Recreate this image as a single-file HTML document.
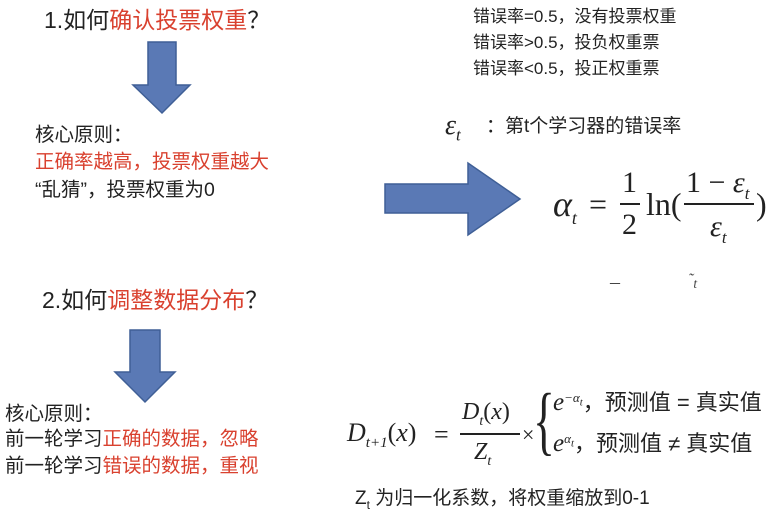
<!DOCTYPE html>
<html><head><meta charset="utf-8"><style>
body{margin:0;width:778px;height:518px;background:#fff;position:relative;overflow:hidden;font-family:"Liberation Sans","Noto Sans CJK SC",sans-serif;color:#222}
.t{position:absolute;white-space:nowrap;line-height:1}
.r{color:#d9412f}
.m{font-family:"Liberation Serif","Noto Serif CJK SC",serif;font-style:italic}
.n{font-family:"Liberation Serif","Noto Serif CJK SC",serif}
sub,sup{line-height:0}
</style></head><body>
<svg width="778" height="518" style="position:absolute;left:0;top:0">
<polygon points="148,42 176,42 176,85 190,85 162,113 133,85 148,85" fill="#5a79b5" stroke="#3f5f96" stroke-width="1.5"/>
<polygon points="130,330 160,330 160,372 175,372 145,402 115,372 130,372" fill="#5a79b5" stroke="#3f5f96" stroke-width="1.5"/>
<polygon points="385,184 468,184 468,163 520,199 468,235 468,213 385,213" fill="#5a79b5" stroke="#3f5f96" stroke-width="1.5"/>
</svg>
<div class="t" style="left:44px;top:9px;font-size:23px">1.如何<span class="r">确认投票权重</span>？</div>
<div class="t" style="left:35px;top:126px;font-size:19.5px">核心原则：</div>
<div class="t r" style="left:35px;top:153px;font-size:19.5px">正确率越高，投票权重越大</div>
<div class="t" style="left:35px;top:181px;font-size:19.5px">“乱猜”，投票权重为0</div>
<div class="t" style="left:473px;top:8px;font-size:17px">错误率=0.5，没有投票权重</div>
<div class="t" style="left:473px;top:34px;font-size:17px">错误率&gt;0.5，投负权重票</div>
<div class="t" style="left:473px;top:60px;font-size:17px">错误率&lt;0.5，投正权重票</div>
<div class="t m" style="left:445px;top:112px;font-size:28px">ε<sub style="font-size:17px">t</sub></div>
<div class="t" style="left:486px;top:117px;font-size:19px">：第t个学习器的错误率</div>
<div class="t m" style="left:553px;top:186px;font-size:36px">α<sub style="font-size:18px">t</sub></div>
<div class="t n" style="left:589px;top:188px;font-size:32px">=</div>
<div class="t n" style="left:622px;top:168px;font-size:30px">1</div>
<div style="position:absolute;left:620px;top:203px;width:20px;height:2px;background:#222"></div>
<div class="t n" style="left:622px;top:210px;font-size:30px">2</div>
<div class="t n" style="left:646px;top:188px;font-size:32px">ln(</div>
<div class="t n" style="left:686px;top:168px;font-size:30px">1 − <span class="m">ε<sub style="font-size:17px">t</sub></span></div>
<div style="position:absolute;left:684px;top:203px;width:70px;height:2px;background:#222"></div>
<div class="t m" style="left:710px;top:212px;font-size:30px">ε<sub style="font-size:17px">t</sub></div>
<div class="t n" style="left:756px;top:188px;font-size:32px">)</div>
<div class="t n" style="left:610px;top:272px;font-size:20px;color:#444">–</div>
<div class="t m" style="left:688px;top:272px;font-size:16px;color:#444">˜<sub>t</sub></div>
<div class="t" style="left:42px;top:289px;font-size:23px">2.如何<span class="r">调整数据分布</span>？</div>
<div class="t" style="left:5px;top:405px;font-size:19.5px">核心原则：</div>
<div class="t" style="left:5px;top:430px;font-size:19.5px">前一轮学习<span class="r">正确的数据，忽略</span></div>
<div class="t" style="left:5px;top:457px;font-size:19.5px">前一轮学习<span class="r">错误的数据，重视</span></div>
<div class="t m" style="left:347px;top:420px;font-size:26px">D<sub style="font-size:15px">t+1</sub><span class="n" style="font-style:normal">(</span>x<span class="n" style="font-style:normal">)</span></div>
<div class="t n" style="left:434px;top:422px;font-size:26px">=</div>
<div class="t m" style="left:462px;top:400px;font-size:24px">D<sub style="font-size:14px">t</sub><span class="n" style="font-style:normal">(</span>x<span class="n" style="font-style:normal">)</span></div>
<div style="position:absolute;left:460px;top:433px;width:60px;height:1.5px;background:#222"></div>
<div class="t m" style="left:474px;top:440px;font-size:24px">Z<sub style="font-size:14px">t</sub></div>
<div class="t n" style="left:522px;top:424px;font-size:22px">×</div>
<div class="t n" style="left:533px;top:383px;font-size:76px;transform:scaleX(0.6);transform-origin:left">{</div>
<div class="t" style="left:553px;top:390px;font-size:22px"><span class="m" style="font-size:25px">e</span><sup class="m" style="font-size:13px">−α<sub>t</sub></sup>，预测值 = 真实值</div>
<div class="t" style="left:553px;top:431px;font-size:22px"><span class="m" style="font-size:25px">e</span><sup class="m" style="font-size:13px">α<sub>t</sub></sup>，预测值 ≠ 真实值</div>
<div class="t" style="left:355px;top:489px;font-size:19px">Z<sub style="font-size:12px">t</sub> 为归一化系数，将权重缩放到0-1</div>
</body></html>
